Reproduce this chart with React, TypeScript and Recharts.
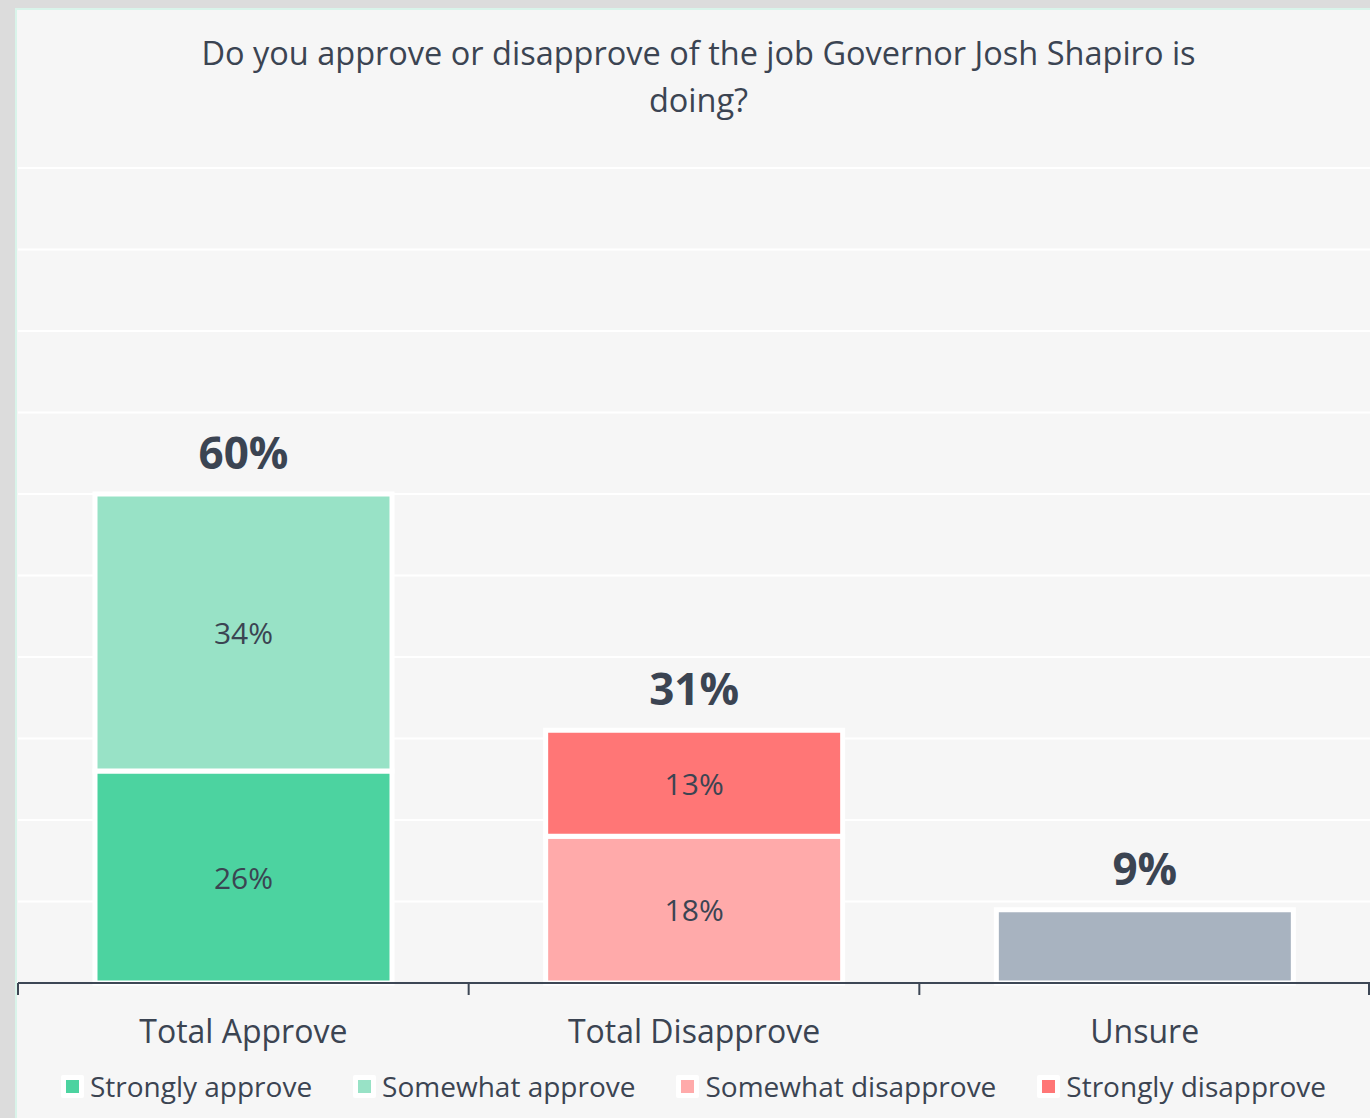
import React from 'react';
import { BarChart, Bar, XAxis, YAxis, CartesianGrid, Legend, LabelList } from 'recharts';

// chart values
const categories = ['Total Approve', 'Total Disapprove', 'Unsure'];
const stronglyApprove = [26, null, null];
const somewhatApprove = [34, null, null];
const somewhatDisapprove = [null, 18, null];
const stronglyDisapprove = [null, 13, null];
const unsure = [null, null, 9];
const totals = [60, 31, 9];
const yTicks = [0, 10, 20, 30, 40, 50, 60, 70, 80, 90, 100];

const legendNames = ['Strongly approve', 'Somewhat approve', 'Somewhat disapprove', 'Strongly disapprove'];
const legendColors = ['#4cd3a0', '#98e2c6', '#ffaaaa', '#ff7676'];
const unsureColor = '#a8b3c0';

const TEXT = '#3b4452';
const AXIS = '#3d4755';
const FONT = '"Open Sans", "Noto Sans", sans-serif';

const data = categories.map((category, i) => ({
  category,
  stronglyApprove: stronglyApprove[i],
  somewhatApprove: somewhatApprove[i],
  somewhatDisapprove: somewhatDisapprove[i],
  stronglyDisapprove: stronglyDisapprove[i],
  unsure: unsure[i],
}));

// segment value in the middle of each block
const InnerLabel = (props: any) => {
  const { x, y, width, height, value } = props;
  if (value == null || value === 0) return null;
  return (
    <text
      x={x + width / 2}
      y={y + height / 2}
      textAnchor="middle"
      dominantBaseline="central"
      fontSize={30}
      fontFamily={FONT}
      fill={TEXT}
    >
      {value}%
    </text>
  );
};

// bold total above the stack
const TotalLabel = (props: any) => {
  const { x, y, width, value, total } = props;
  if (value == null || value === 0) return null;
  return (
    <text
      x={x + width / 2}
      y={y - 25}
      textAnchor="middle"
      fontSize={44}
      fontWeight={700}
      fontFamily={FONT}
      fill={TEXT}
    >
      {total}%
    </text>
  );
};

// category label plus tick marks on the band edges (Excel style)
const CategoryTick = (props: any) => {
  const { x, y, payload, index, visibleTicksCount, width } = props;
  const half = payload && payload.offset ? payload.offset : width / (visibleTicksCount || 3) / 2;
  const last = index === (visibleTicksCount || categories.length) - 1;
  return (
    <g>
      <line x1={x - half} x2={x - half} y1={y} y2={y + 12} stroke={AXIS} strokeWidth={2} />
      {last && <line x1={x + half - 1} x2={x + half - 1} y1={y} y2={y + 12} stroke={AXIS} strokeWidth={2} />}
      <text x={x} y={y + 60} textAnchor="middle" fontSize={32} fontFamily={FONT} fill={TEXT}>
        {payload.value}
      </text>
    </g>
  );
};

const LegendContent = () => (
  <div style={{ display: 'flex', justifyContent: 'center', alignItems: 'center', height: 30, fontFamily: FONT }}>
    {legendNames.map((name, i) => (
      <div key={name} style={{ display: 'flex', alignItems: 'center', marginRight: i < legendNames.length - 1 ? 41 : 0 }}>
        <span
          style={{
            display: 'inline-block',
            width: 13,
            height: 13,
            background: legendColors[i],
            border: '5px solid #fff',
            borderRadius: 2,
            marginRight: 6,
          }}
        />
        <span style={{ fontSize: 28, color: TEXT, whiteSpace: 'nowrap' }}>{name}</span>
      </div>
    ))}
  </div>
);

export default function App() {
  return (
    <div
      style={{
        position: 'absolute',
        left: 0,
        top: 0,
        width: 1370,
        height: 1118,
        background: '#dcdcdc',
        overflow: 'hidden',
        fontFamily: FONT,
      }}
    >
      <div
        style={{
          position: 'absolute',
          left: 15,
          top: 8,
          width: 1360,
          height: 1115,
          background: '#f6f6f6',
          border: '2px solid #d9f4ea',
          boxSizing: 'border-box',
        }}
      />
      <div
        style={{
          position: 'absolute',
          left: 27,
          top: 29,
          width: 1343,
          textAlign: 'center',
          fontSize: 32.5,
          lineHeight: '47px',
          color: TEXT,
        }}
      >
        <div>Do you approve or disapprove of the job Governor Josh Shapiro is</div>
        <div>doing?</div>
      </div>
      <div style={{ position: 'absolute', left: 17, top: 10 }}>
        <BarChart
          width={1353}
          height={1108}
          data={data}
          margin={{ top: 158, right: 0, left: 1, bottom: 45 }}
          barSize={297}
        >
          <CartesianGrid vertical={false} stroke="#ffffff" strokeWidth={2} />
          <YAxis hide domain={[0, 100]} ticks={yTicks} />
          <XAxis
            dataKey="category"
            height={60}
            axisLine={{ stroke: AXIS, strokeWidth: 2 }}
            tickLine={false}
            tickSize={0}
            tickMargin={0}
            interval={0}
            tick={<CategoryTick />}
          />
          <Legend
            verticalAlign="bottom"
            content={<LegendContent />}
            wrapperStyle={{ top: 1061, bottom: 'auto', left: 0, width: 1353, height: 30 }}
          />
          <Bar dataKey="stronglyApprove" name={legendNames[0]} stackId="s" fill={legendColors[0]} stroke="#fff" strokeWidth={5} isAnimationActive={false}>
            <LabelList dataKey="stronglyApprove" content={<InnerLabel />} />
          </Bar>
          <Bar dataKey="somewhatApprove" name={legendNames[1]} stackId="s" fill={legendColors[1]} stroke="#fff" strokeWidth={5} isAnimationActive={false}>
            <LabelList dataKey="somewhatApprove" content={<InnerLabel />} />
            <LabelList dataKey="somewhatApprove" content={<TotalLabel total={totals[0]} />} />
          </Bar>
          <Bar dataKey="somewhatDisapprove" name={legendNames[2]} stackId="s" fill={legendColors[2]} stroke="#fff" strokeWidth={5} isAnimationActive={false}>
            <LabelList dataKey="somewhatDisapprove" content={<InnerLabel />} />
          </Bar>
          <Bar dataKey="stronglyDisapprove" name={legendNames[3]} stackId="s" fill={legendColors[3]} stroke="#fff" strokeWidth={5} isAnimationActive={false}>
            <LabelList dataKey="stronglyDisapprove" content={<InnerLabel />} />
            <LabelList dataKey="stronglyDisapprove" content={<TotalLabel total={totals[1]} />} />
          </Bar>
          <Bar dataKey="unsure" name="Unsure" stackId="s" fill={unsureColor} stroke="#fff" strokeWidth={5} legendType="none" isAnimationActive={false}>
            <LabelList dataKey="unsure" content={<TotalLabel total={totals[2]} />} />
          </Bar>
        </BarChart>
      </div>
    </div>
  );
}
